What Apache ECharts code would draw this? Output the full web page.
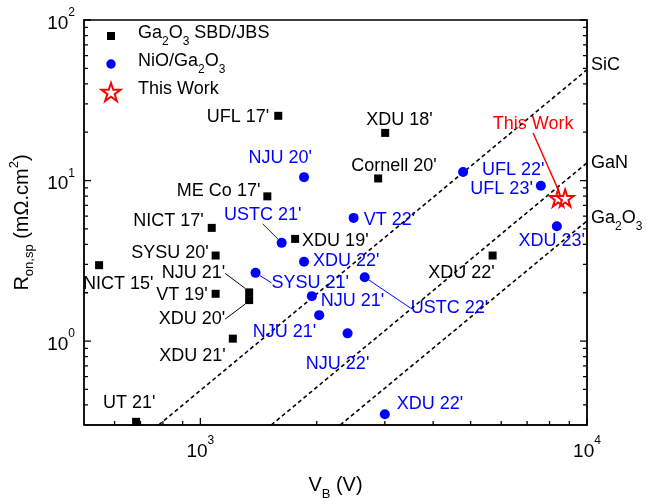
<!DOCTYPE html>
<html>
<head>
<meta charset="utf-8">
<script src="https://cdn.jsdelivr.net/npm/echarts@6/dist/echarts.min.js"></script>
<style>
  html, body { margin: 0; padding: 0; background: #fff; }
  #chart { width: 647px; height: 498px; }
</style>
</head>
<body>
<div id="chart"></div>
<script>
// Specific on-resistance versus breakdown voltage of Ga2O3 power diodes

// Ga2O3 Schottky / JBS diodes
const sbdNames = ["UFL 17'", "ME Co 17'", "NICT 17'", "SYSU 20'", "NICT 15'", "VT 19'", "NJU 21'",
                  "XDU 20'", "XDU 21'", "UT 21'", "XDU 19'", "Cornell 20'", "XDU 18'", "XDU 22'"];
const sbdVb  = [1590, 1490, 1070, 1095, 547, 1095, 1337, 1337, 1213, 682, 1758, 2883, 3006, 5700];
const sbdRon = [25.3, 7.97, 5.07, 3.41, 2.97, 1.97, 2.01, 1.80, 1.035, 0.314, 4.33, 10.3, 19.8, 3.41];

// NiO/Ga2O3 heterojunction diodes
const hjNames = ["NJU 20'", "USTC 21'", "VT 22'", "XDU 22'", "SYSU 21'", "USTC 22'", "NJU 21'",
                 "NJU 21'", "NJU 22'", "XDU 22'", "UFL 22'", "UFL 23'", "XDU 23'"];
const hjVb  = [1854, 1623, 2491, 1854, 1389, 2661, 1942, 2029, 2403, 3000, 4781, 7596, 8356];
const hjRon = [10.5, 4.09, 5.85, 3.12, 2.66, 2.50, 1.905, 1.45, 1.117, 0.35, 11.3, 9.29, 5.19];

// This work
const workNames = ['This Work', ''];
const workVb  = [8420, 8780];
const workRon = [7.78, 7.78];

// Unipolar material limits (end points)
const limitNames = ['SiC', 'GaN', 'Ga2O3'];
const sicLimit   = [[780, 0.3], [10000, 49]];
const ganLimit   = [[1525, 0.3], [10000, 12.9]];
const ga2o3Limit = [[2300, 0.3], [10000, 5.6]];

// Axis ranges and tick values
const xRange = [500, 10000];
const yRange = [0.3, 100];
const xMajorTicks = [1000, 10000];
const xMinorTicks = [600, 700, 800, 900, 2000, 3000, 4000, 5000, 6000, 7000, 8000, 9000];
const yMajorTicks = [1, 10, 100];
const yMinorTicks = [0.4, 0.5, 0.6, 0.7, 0.8, 0.9, 2, 3, 4, 5, 6, 7, 8, 9,
                     20, 30, 40, 50, 60, 70, 80, 90];

// Label anchors relative to each point: [align, dx, dy, leader line]
const sbdPlace = [
  ['right', -9, 1], ['right', -7, -5], ['right', -8, -7], ['right', -7, -3],
  ['left', -16, 19], ['right', -8, 1], ['right', -24, -19, true], ['right', -24, 19, true],
  ['right', -7, 17], ['center', -7, -19], ['left', 7, 2], ['left', -27, -12],
  ['left', -19, -13], ['right', 2, 17]
];
const hjPlace = [
  ['right', 8, -19], ['center', -19, -28, true], ['left', 10, 2], ['left', 9, -1],
  ['left', 16, 10, true], ['left', 46, 31, true], ['left', 9, 5], ['right', -3, 17],
  ['center', -10, 31], ['left', 12, -10], ['left', 19, -2], ['right', -8, 3],
  ['right', 28, 15]
];
const workPlace = [['center', -25, -74, true], ['center', 0, 0]];

const FONT = "'Liberation Sans', Arial, Helvetica, sans-serif";
const BLUE = '#0000ff';
const RED = '#ff0000';
const STAR = 'path://M50,0 L61.23,34.55 L97.55,34.55 L68.16,55.9 L79.39,90.45 L50,69.1 L20.61,90.45 L31.84,55.9 L2.45,34.55 L38.77,34.55 Z';
// Legend icons share one 44x20 frame so every row lines up the same way
const LEG_SQUARE = 'path://M0,0 M44,20 M18,6 L26,6 L26,14 L18,14 Z';
const LEG_CIRCLE = 'path://M0,0 M44,20 M17.3,10 A4.7,4.7 0 1 1 26.7,10 A4.7,4.7 0 1 1 17.3,10 Z';
const LEG_STAR = 'path://M0,0 M44,20 M22,0.96 L24.25,7.87 L31.51,7.87 L25.63,12.14 L27.88,19.05 L22,14.78 L16.12,19.05 L18.37,12.14 L12.49,7.87 L19.75,7.87 Z';

const richText = {
  n: { fontFamily: FONT, fontSize: 18, lineHeight: 24, verticalAlign: 'top', color: '#000' },
  s: { fontFamily: FONT, fontSize: 12, lineHeight: 12, verticalAlign: 'bottom', color: '#000' }
};
const powRich = {
  b:   { fontFamily: FONT, fontSize: 19, lineHeight: 26, verticalAlign: 'bottom', color: '#000' },
  sup: { fontFamily: FONT, fontSize: 12, lineHeight: 12, verticalAlign: 'top', color: '#000' }
};
const powLabel = v => '{b|10}{sup|' + Math.round(Math.log10(v)) + '}';

function items(names, xs, ys, place) {
  return names.map((n, i) => ({
    name: n,
    value: [xs[i], ys[i]],
    label: { show: n !== '' },
    labelLine: { show: !!place[i][3] }
  }));
}
function layoutFrom(place) {
  return params => {
    const p = place[params.dataIndex];
    return { align: p[0], verticalAlign: 'middle', dx: p[1], dy: p[2] };
  };
}
function pointLabel(color) {
  return { show: true, position: 'inside', formatter: '{b}', color: color,
           fontFamily: FONT, fontSize: 18, textBorderWidth: 0 };
}

function limitSeries(name, pts, labelText, offsetY) {
  return {
    name: name, type: 'line', data: pts, xAxisIndex: 0, yAxisIndex: 0,
    symbol: 'none', showSymbol: false, silent: true, z: 1,
    lineStyle: { color: '#000', width: 1.6, type: [4, 3] },
    endLabel: { show: true, formatter: labelText, distance: 4, offset: [0, offsetY],
                fontFamily: FONT, fontSize: 18, color: '#000', rich: richText }
  };
}

const frameLine = { show: true, lineStyle: { color: '#000', width: 1.5 } };

const option = {
  animation: false,
  backgroundColor: '#fff',
  grid: { left: 84, right: 60, top: 20, bottom: 73, containLabel: false, outerBoundsMode: 'none' },
  legend: {
    data: [
      { name: 'Ga2O3 SBD/JBS', icon: LEG_SQUARE },
      { name: 'NiO/Ga2O3', icon: LEG_CIRCLE },
      { name: 'This Work', icon: LEG_STAR }
    ],
    left: 88, top: 24, padding: 0, orient: 'vertical',
    itemWidth: 44, itemHeight: 20, itemGap: 4, selectedMode: false,
    formatter: name => {
      if (name === 'Ga2O3 SBD/JBS') return '{n|Ga}{s|2}{n|O}{s|3}{n| SBD/JBS}';
      if (name === 'NiO/Ga2O3') return '{n|NiO/Ga}{s|2}{n|O}{s|3}';
      return '{n|' + name + '}';
    },
    textStyle: { rich: richText }
  },
  xAxis: [
    { type: 'log', min: xRange[0], max: xRange[1], position: 'bottom',
      axisLine: frameLine, axisTick: { show: false },
      axisLabel: { show: true, customValues: xMajorTicks, margin: 10, formatter: powLabel, rich: powRich },
      splitLine: { show: false }, minorTick: { show: false },
      name: '{v|V}{s|B}{v| (V)}', nameLocation: 'middle', nameGap: 50,
      nameTextStyle: { rich: {
        v: { fontFamily: FONT, fontSize: 20, lineHeight: 26, verticalAlign: 'top', color: '#000' },
        s: { fontFamily: FONT, fontSize: 13, lineHeight: 13, verticalAlign: 'bottom', color: '#000' } } } },
    { type: 'log', min: xRange[0], max: xRange[1], position: 'top',
      axisLine: frameLine, axisTick: { show: false }, axisLabel: { show: false }, splitLine: { show: false } }
  ],
  yAxis: [
    { type: 'log', min: yRange[0], max: yRange[1], position: 'left',
      axisLine: frameLine, axisTick: { show: false },
      axisLabel: { show: true, customValues: yMajorTicks, margin: 9, formatter: powLabel, rich: powRich },
      splitLine: { show: false }, minorTick: { show: false },
      name: '{r|R}{sub|on,sp}{r| (mΩ.cm}{sup|2}{r|)}', nameLocation: 'middle', nameRotate: 90, nameGap: 48,
      nameTextStyle: { rich: {
        r:   { fontFamily: FONT, fontSize: 20, lineHeight: 28, verticalAlign: 'middle', color: '#000' },
        sub: { fontFamily: FONT, fontSize: 13, lineHeight: 13, verticalAlign: 'bottom', color: '#000' },
        sup: { fontFamily: FONT, fontSize: 13, lineHeight: 13, verticalAlign: 'top', color: '#000' } } } },
    { type: 'log', min: yRange[0], max: yRange[1], position: 'right',
      axisLine: frameLine, axisTick: { show: false }, axisLabel: { show: false }, splitLine: { show: false } }
  ],
  series: [
    limitSeries(limitNames[0], sicLimit, 'SiC', -5),
    limitSeries(limitNames[1], ganLimit, 'GaN', 0),
    limitSeries(limitNames[2], ga2o3Limit, '{n|Ga}{s|2}{n|O}{s|3}', 0),
    {
      name: 'Ga2O3 SBD/JBS', type: 'scatter', xAxisIndex: 0, yAxisIndex: 0, z: 3,
      symbol: 'rect', symbolSize: 8,
      itemStyle: { color: '#000', opacity: 1 },
      label: pointLabel('#000'),
      labelLine: { lineStyle: { color: '#000', width: 1 } },
      labelLayout: layoutFrom(sbdPlace),
      data: items(sbdNames, sbdVb, sbdRon, sbdPlace)
    },
    {
      name: 'NiO/Ga2O3', type: 'scatter', xAxisIndex: 0, yAxisIndex: 0, z: 3,
      symbol: 'circle', symbolSize: 10,
      itemStyle: { color: BLUE, opacity: 1 },
      label: pointLabel(BLUE),
      labelLine: { lineStyle: { color: BLUE, width: 1 } },
      labelLayout: layoutFrom(hjPlace),
      data: items(hjNames, hjVb, hjRon, hjPlace)
    },
    {
      name: 'This Work', type: 'scatter', xAxisIndex: 0, yAxisIndex: 0, z: 4,
      symbol: STAR, symbolSize: 17,
      itemStyle: { color: '#fff', borderColor: RED, borderWidth: 2, opacity: 1 },
      label: pointLabel(RED),
      labelLine: { lineStyle: { color: RED, width: 1.5 } },
      labelLayout: layoutFrom(workPlace),
      data: items(workNames, workVb, workRon, workPlace)
    }
  ]
};

const chart = echarts.init(document.getElementById('chart'), null, { renderer: 'canvas' });
chart.setOption(option);

// Inward tick marks on the frame: one comb-shaped polyline per side,
// each tooth placed with the axis scale.
function frameTicks() {
  const px = v => chart.convertToPixel({ xAxisIndex: 0 }, v);
  const py = v => chart.convertToPixel({ yAxisIndex: 0 }, v);
  const left = px(xRange[0]);
  const right = px(xRange[1]);
  const bottom = py(yRange[0]);
  const top = py(yRange[1]);
  const withLen = (major, minor) =>
    major.map(v => [v, 7]).concat(minor.map(v => [v, 4])).sort((a, b) => a[0] - b[0]);

  const bottomComb = [[left, bottom]];
  withLen(xMajorTicks, xMinorTicks).forEach(([v, len]) => {
    const x = px(v);
    bottomComb.push([x, bottom], [x, bottom - len], [x, bottom]);
  });
  bottomComb.push([right, bottom]);

  const leftComb = [[left, bottom]];
  const rightComb = [[right, bottom]];
  withLen(yMajorTicks, yMinorTicks).forEach(([v, len]) => {
    const y = py(v);
    leftComb.push([left, y], [left + len, y], [left, y]);
    rightComb.push([right, y], [right - len, y], [right, y]);
  });
  leftComb.push([left, top]);
  rightComb.push([right, top]);

  const comb = pts => ({
    type: 'polyline', silent: true, z: 100,
    shape: { points: pts },
    style: { stroke: '#000', lineWidth: 1.3, fill: null, lineJoin: 'bevel', lineCap: 'butt' }
  });
  chart.setOption({ graphic: { elements: [comb(bottomComb), comb(leftComb), comb(rightComb)] } });
}
frameTicks();
</script>
</body>
</html>
